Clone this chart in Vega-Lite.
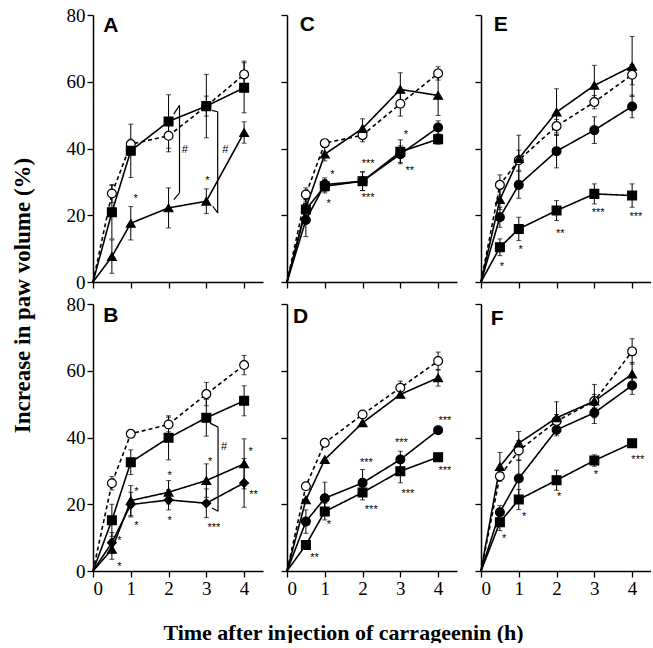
{
 "$schema": "https://vega.github.io/schema/vega-lite/v6.json",
 "padding": {"left": 11, "top": 6, "right": 0, "bottom": 0},
 "background": "white",
 "config": {
  "view": {"stroke": null},
  "axis": {"domainColor": "black", "domainWidth": 1.5, "tickColor": "black", "tickWidth": 1.3, "tickSize": 6, "grid": false, "labelFont": "Liberation Serif", "labelFontSize": 19, "labelColor": "black", "labelPadding": 2, "titleFont": "Liberation Serif", "titleFontSize": 22, "titleFontWeight": "bold", "titleColor": "black"},
  "point": {"size": 78},
  "text": {"color": "black"}
 },
 "data": {"values": [
  {"p":"A","k":"pt","s":"ctrl","t":0,"v":0,"e":0},{"p":"A","k":"pt","s":"ctrl","t":0.5,"v":26.5,"e":2.7},{"p":"A","k":"pt","s":"ctrl","t":1,"v":41.3,"e":1.5},{"p":"A","k":"pt","s":"ctrl","t":2,"v":43.8,"e":4.8},{"p":"A","k":"pt","s":"ctrl","t":3,"v":52.7,"e":3},{"p":"A","k":"pt","s":"ctrl","t":4,"v":62.2,"e":4},
  {"p":"A","k":"pt","s":"sq","t":0,"v":0,"e":0},{"p":"A","k":"pt","s":"sq","t":0.5,"v":20.9,"e":8},{"p":"A","k":"pt","s":"sq","t":1,"v":39.3,"e":8},{"p":"A","k":"pt","s":"sq","t":2,"v":48.1,"e":8},{"p":"A","k":"pt","s":"sq","t":3,"v":52.7,"e":9.5},{"p":"A","k":"pt","s":"sq","t":4,"v":58.2,"e":7.5},
  {"p":"A","k":"pt","s":"tri","t":0,"v":0,"e":0},{"p":"A","k":"pt","s":"tri","t":0.5,"v":7.6,"e":5},{"p":"A","k":"pt","s":"tri","t":1,"v":17.6,"e":5},{"p":"A","k":"pt","s":"tri","t":2,"v":22.2,"e":6},{"p":"A","k":"pt","s":"tri","t":3,"v":24.2,"e":3.7},{"p":"A","k":"pt","s":"tri","t":4,"v":44.8,"e":3.2},
  {"p":"A","k":"st","t":1.13,"v":25.7,"lab":"*"},{"p":"A","k":"st","t":3.03,"v":31.2,"lab":"*"},{"p":"A","k":"st","t":2.43,"v":40.3,"lab":"#"},{"p":"A","k":"st","t":3.5,"v":40.3,"lab":"#"},
  {"p":"A","k":"sg","t":2.14,"v":50.4,"t2":2.29,"v2":52.9},{"p":"A","k":"sg","t":2.29,"v":52.9,"t2":2.29,"v2":26.7},{"p":"A","k":"sg","t":2.29,"v":26.7,"t2":2.14,"v2":24.7},
  {"p":"A","k":"sg","t":3.15,"v":51.4,"t2":3.3,"v2":51},{"p":"A","k":"sg","t":3.3,"v":51,"t2":3.3,"v2":20.7},{"p":"A","k":"sg","t":3.3,"v":20.7,"t2":3.17,"v2":22.7},
  {"p":"A","k":"lb","t":0.27,"v":74.9,"lab":"A"},

  {"p":"C","k":"pt","s":"ctrl","t":0,"v":0,"e":0},{"p":"C","k":"pt","s":"ctrl","t":0.5,"v":26.2,"e":2},{"p":"C","k":"pt","s":"ctrl","t":1,"v":41.6,"e":1},{"p":"C","k":"pt","s":"ctrl","t":2,"v":44,"e":2},{"p":"C","k":"pt","s":"ctrl","t":3,"v":53.4,"e":3.7},{"p":"C","k":"pt","s":"ctrl","t":4,"v":62.5,"e":2},
  {"p":"C","k":"pt","s":"tri","t":0,"v":0,"e":0},{"p":"C","k":"pt","s":"tri","t":0.5,"v":22.2,"e":3},{"p":"C","k":"pt","s":"tri","t":1,"v":38.3,"e":2},{"p":"C","k":"pt","s":"tri","t":2,"v":46,"e":2.9},{"p":"C","k":"pt","s":"tri","t":3,"v":57.7,"e":5},{"p":"C","k":"pt","s":"tri","t":4,"v":55.9,"e":6},
  {"p":"C","k":"pt","s":"sq","t":0,"v":0,"e":0},{"p":"C","k":"pt","s":"sq","t":0.5,"v":21.7,"e":3},{"p":"C","k":"pt","s":"sq","t":1,"v":28.7,"e":2},{"p":"C","k":"pt","s":"sq","t":2,"v":30.2,"e":2.8},{"p":"C","k":"pt","s":"sq","t":3,"v":39,"e":3.6},{"p":"C","k":"pt","s":"sq","t":4,"v":42.8,"e":1.5},
  {"p":"C","k":"pt","s":"dot","t":0,"v":0,"e":0},{"p":"C","k":"pt","s":"dot","t":0.5,"v":18.6,"e":5},{"p":"C","k":"pt","s":"dot","t":1,"v":29.2,"e":2},{"p":"C","k":"pt","s":"dot","t":2,"v":30.2,"e":2.8},{"p":"C","k":"pt","s":"dot","t":3,"v":38.3,"e":2.5},{"p":"C","k":"pt","s":"dot","t":4,"v":46.3,"e":2},
  {"p":"C","k":"st","t":1.2,"v":33,"lab":"*"},{"p":"C","k":"st","t":1.1,"v":24.2,"lab":"*"},{"p":"C","k":"st","t":2.15,"v":36.3,"lab":"***"},{"p":"C","k":"st","t":2.15,"v":26.2,"lab":"***"},{"p":"C","k":"st","t":3.15,"v":44.8,"lab":"*"},{"p":"C","k":"st","t":3.25,"v":34.3,"lab":"**"},
  {"p":"C","k":"lb","t":0.34,"v":75.1,"lab":"C"},

  {"p":"E","k":"pt","s":"ctrl","t":0,"v":0,"e":0},{"p":"E","k":"pt","s":"ctrl","t":0.5,"v":29.1,"e":3},{"p":"E","k":"pt","s":"ctrl","t":1,"v":36.5,"e":3},{"p":"E","k":"pt","s":"ctrl","t":2,"v":46.7,"e":2},{"p":"E","k":"pt","s":"ctrl","t":3,"v":53.9,"e":2},{"p":"E","k":"pt","s":"ctrl","t":4,"v":62.1,"e":3},
  {"p":"E","k":"pt","s":"tri","t":0,"v":0,"e":0},{"p":"E","k":"pt","s":"tri","t":0.5,"v":24.7,"e":3},{"p":"E","k":"pt","s":"tri","t":1,"v":37,"e":7},{"p":"E","k":"pt","s":"tri","t":2,"v":50.9,"e":7},{"p":"E","k":"pt","s":"tri","t":3,"v":58.9,"e":6},{"p":"E","k":"pt","s":"tri","t":4,"v":64.6,"e":9},
  {"p":"E","k":"pt","s":"dot","t":0,"v":0,"e":0},{"p":"E","k":"pt","s":"dot","t":0.5,"v":19.4,"e":3},{"p":"E","k":"pt","s":"dot","t":1,"v":29.1,"e":4},{"p":"E","k":"pt","s":"dot","t":2,"v":39.2,"e":5},{"p":"E","k":"pt","s":"dot","t":3,"v":45.5,"e":4},{"p":"E","k":"pt","s":"dot","t":4,"v":52.6,"e":3.4},
  {"p":"E","k":"pt","s":"sq","t":0,"v":0,"e":0},{"p":"E","k":"pt","s":"sq","t":0.5,"v":10.4,"e":2.5},{"p":"E","k":"pt","s":"sq","t":1,"v":15.9,"e":3.5},{"p":"E","k":"pt","s":"sq","t":2,"v":21.4,"e":3},{"p":"E","k":"pt","s":"sq","t":3,"v":26.4,"e":3},{"p":"E","k":"pt","s":"sq","t":4,"v":25.9,"e":3.5},
  {"p":"E","k":"st","t":0.55,"v":5.3,"lab":"*"},{"p":"E","k":"st","t":1.05,"v":10.4,"lab":"*"},{"p":"E","k":"st","t":2.1,"v":15.4,"lab":"**"},{"p":"E","k":"st","t":3.1,"v":21.7,"lab":"***"},{"p":"E","k":"st","t":4.1,"v":20.4,"lab":"***"},
  {"p":"E","k":"lb","t":0.34,"v":75.1,"lab":"E"},

  {"p":"B","k":"pt","s":"ctrl","t":0,"v":0,"e":0},{"p":"B","k":"pt","s":"ctrl","t":0.5,"v":26.3,"e":2},{"p":"B","k":"pt","s":"ctrl","t":1,"v":41.1,"e":0.5},{"p":"B","k":"pt","s":"ctrl","t":2,"v":43.9,"e":2.2},{"p":"B","k":"pt","s":"ctrl","t":3,"v":53,"e":3.5},{"p":"B","k":"pt","s":"ctrl","t":4,"v":61.7,"e":2.9},
  {"p":"B","k":"pt","s":"sq","t":0,"v":0,"e":0},{"p":"B","k":"pt","s":"sq","t":0.5,"v":15.2,"e":4.8},{"p":"B","k":"pt","s":"sq","t":1,"v":32.6,"e":3.7},{"p":"B","k":"pt","s":"sq","t":2,"v":39.9,"e":6.6},{"p":"B","k":"pt","s":"sq","t":3,"v":45.9,"e":5.5},{"p":"B","k":"pt","s":"sq","t":4,"v":51,"e":4.5},
  {"p":"B","k":"pt","s":"tri","t":0,"v":0,"e":0},{"p":"B","k":"pt","s":"tri","t":0.5,"v":6.5,"e":3},{"p":"B","k":"pt","s":"tri","t":1,"v":21.1,"e":4.5},{"p":"B","k":"pt","s":"tri","t":2,"v":23.6,"e":3.5},{"p":"B","k":"pt","s":"tri","t":3,"v":27.1,"e":5},{"p":"B","k":"pt","s":"tri","t":4,"v":32.1,"e":7.5},
  {"p":"B","k":"pt","s":"dia","t":0,"v":0,"e":0},{"p":"B","k":"pt","s":"dia","t":0.5,"v":8.5,"e":3},{"p":"B","k":"pt","s":"dia","t":1,"v":19.9,"e":3.7},{"p":"B","k":"pt","s":"dia","t":2,"v":21.3,"e":3},{"p":"B","k":"pt","s":"dia","t":3,"v":20.3,"e":4.3},{"p":"B","k":"pt","s":"dia","t":4,"v":26.4,"e":7.3},
  {"p":"B","k":"st","t":0.7,"v":9.8,"lab":"*"},{"p":"B","k":"st","t":0.7,"v":2.2,"lab":"*"},{"p":"B","k":"st","t":1.15,"v":24.6,"lab":"*"},{"p":"B","k":"st","t":1.15,"v":14.5,"lab":"*"},{"p":"B","k":"st","t":2.03,"v":29.4,"lab":"*"},{"p":"B","k":"st","t":2.03,"v":16,"lab":"*"},{"p":"B","k":"st","t":3.1,"v":33.6,"lab":"*"},{"p":"B","k":"st","t":3.2,"v":13.8,"lab":"***"},{"p":"B","k":"st","t":3.47,"v":38.1,"lab":"#"},{"p":"B","k":"st","t":4.17,"v":36.6,"lab":"*"},{"p":"B","k":"st","t":4.25,"v":23.6,"lab":"**"},
  {"p":"B","k":"sg","t":3.1,"v":44.3,"t2":3.31,"v2":43.1},{"p":"B","k":"sg","t":3.31,"v":43.1,"t2":3.31,"v2":17.9},{"p":"B","k":"sg","t":3.31,"v":17.9,"t2":3.15,"v2":18.9},
  {"p":"B","k":"lb","t":0.27,"v":74.6,"lab":"B"},

  {"p":"D","k":"pt","s":"ctrl","t":0,"v":0,"e":0},{"p":"D","k":"pt","s":"ctrl","t":0.5,"v":25.4,"e":0},{"p":"D","k":"pt","s":"ctrl","t":1,"v":38.4,"e":0},{"p":"D","k":"pt","s":"ctrl","t":2,"v":46.9,"e":0},{"p":"D","k":"pt","s":"ctrl","t":3,"v":54.9,"e":2},{"p":"D","k":"pt","s":"ctrl","t":4,"v":62.9,"e":2.7},
  {"p":"D","k":"pt","s":"tri","t":0,"v":0,"e":0},{"p":"D","k":"pt","s":"tri","t":0.5,"v":21.3,"e":0},{"p":"D","k":"pt","s":"tri","t":1,"v":33.4,"e":0},{"p":"D","k":"pt","s":"tri","t":2,"v":44.4,"e":0},{"p":"D","k":"pt","s":"tri","t":3,"v":52.9,"e":1},{"p":"D","k":"pt","s":"tri","t":4,"v":57.9,"e":2.5},
  {"p":"D","k":"pt","s":"dot","t":0,"v":0,"e":0},{"p":"D","k":"pt","s":"dot","t":0.5,"v":14.8,"e":3.5},{"p":"D","k":"pt","s":"dot","t":1,"v":21.8,"e":4.8},{"p":"D","k":"pt","s":"dot","t":2,"v":26.4,"e":4},{"p":"D","k":"pt","s":"dot","t":3,"v":33.4,"e":2.5},{"p":"D","k":"pt","s":"dot","t":4,"v":42.2,"e":0.5},
  {"p":"D","k":"pt","s":"sq","t":0,"v":0,"e":0},{"p":"D","k":"pt","s":"sq","t":0.5,"v":7.8,"e":1},{"p":"D","k":"pt","s":"sq","t":1,"v":17.8,"e":2.5},{"p":"D","k":"pt","s":"sq","t":2,"v":23.5,"e":2.2},{"p":"D","k":"pt","s":"sq","t":3,"v":29.9,"e":3.5},{"p":"D","k":"pt","s":"sq","t":4,"v":34.1,"e":0.8},
  {"p":"D","k":"st","t":0.73,"v":4.8,"lab":"**"},{"p":"D","k":"st","t":1.11,"v":14.8,"lab":"*"},{"p":"D","k":"st","t":2.1,"v":33.4,"lab":"***"},{"p":"D","k":"st","t":2.23,"v":19.3,"lab":"***"},{"p":"D","k":"st","t":3.03,"v":39.2,"lab":"***"},{"p":"D","k":"st","t":3.2,"v":24.1,"lab":"***"},{"p":"D","k":"st","t":4.18,"v":45.9,"lab":"***"},{"p":"D","k":"st","t":4.18,"v":30.9,"lab":"***"},
  {"p":"D","k":"lb","t":0.16,"v":74.2,"lab":"D"},

  {"p":"F","k":"pt","s":"ctrl","t":0,"v":0,"e":0},{"p":"F","k":"pt","s":"ctrl","t":0.5,"v":28.4,"e":1.5},{"p":"F","k":"pt","s":"ctrl","t":1,"v":36.1,"e":3},{"p":"F","k":"pt","s":"ctrl","t":2,"v":44.9,"e":2},{"p":"F","k":"pt","s":"ctrl","t":3,"v":50.9,"e":2},{"p":"F","k":"pt","s":"ctrl","t":4,"v":65.8,"e":3.8},
  {"p":"F","k":"pt","s":"tri","t":0,"v":0,"e":0},{"p":"F","k":"pt","s":"tri","t":0.5,"v":31.3,"e":4.2},{"p":"F","k":"pt","s":"tri","t":1,"v":38.3,"e":3.5},{"p":"F","k":"pt","s":"tri","t":2,"v":45.9,"e":4.8},{"p":"F","k":"pt","s":"tri","t":3,"v":50.9,"e":5},{"p":"F","k":"pt","s":"tri","t":4,"v":59,"e":3.5},
  {"p":"F","k":"pt","s":"dot","t":0,"v":0,"e":0},{"p":"F","k":"pt","s":"dot","t":0.5,"v":17.6,"e":2},{"p":"F","k":"pt","s":"dot","t":1,"v":27.7,"e":5.6},{"p":"F","k":"pt","s":"dot","t":2,"v":42.3,"e":1.8},{"p":"F","k":"pt","s":"dot","t":3,"v":47.4,"e":3.2},{"p":"F","k":"pt","s":"dot","t":4,"v":55.6,"e":2.7},
  {"p":"F","k":"pt","s":"sq","t":0,"v":0,"e":0},{"p":"F","k":"pt","s":"sq","t":0.5,"v":14.6,"e":2.5},{"p":"F","k":"pt","s":"sq","t":1,"v":21.4,"e":3},{"p":"F","k":"pt","s":"sq","t":2,"v":27.2,"e":3},{"p":"F","k":"pt","s":"sq","t":3,"v":33.1,"e":1.7},{"p":"F","k":"pt","s":"sq","t":4,"v":38.3,"e":1},
  {"p":"F","k":"st","t":0.61,"v":10.6,"lab":"*"},{"p":"F","k":"st","t":1.14,"v":17.1,"lab":"*"},{"p":"F","k":"st","t":2.07,"v":23,"lab":"*"},{"p":"F","k":"st","t":3.04,"v":29.7,"lab":"*"},{"p":"F","k":"st","t":4.15,"v":34.3,"lab":"***"},
  {"p":"F","k":"lb","t":0.26,"v":73.6,"lab":"F"}
 ]},
 "bounds": "flush",
 "columns": 3,
 "spacing": {"row": 22, "column": 24},
 "concat": [
   {"width": 170, "height": 267, "transform": [{"filter": "datum.p == 'A'"}],
    "encoding": {
     "x": {"field": "t", "type": "quantitative", "scale": {"domain": [0, 4.5], "nice": false, "zero": false}, "axis": {"values": [0,1,2,3,4], "labels": false, "title": null}},
     "y": {"field": "v", "type": "quantitative", "scale": {"domain": [0, 80], "nice": false}, "axis": {"values": [0,20,40,60,80], "title": "Increase in paw volume (%)", "titleFontSize": 23, "titleX": -71, "titleY": 280, "titleAngle": 270, "titleAlign": "center", "titleBaseline": "middle"}}
    },
    "layer": [
     {"transform": [{"filter": "datum.k == 'sg'"}], "mark": {"type": "rule", "color": "black", "strokeWidth": 1.2}, "encoding": {"x2": {"field": "t2"}, "y2": {"field": "v2"}}},
     {"transform": [{"filter": "datum.k == 'pt'"}], "mark": {"type": "line", "color": "black", "strokeWidth": 1.6}, "encoding": {"detail": {"field": "s"}, "strokeDash": {"field": "s", "type": "nominal", "scale": {"domain": ["ctrl","sq","tri","dia","dot"], "range": [[4,3],[1,0],[1,0],[1,0],[1,0]]}, "legend": null}}},
     {"transform": [{"filter": "datum.k == 'pt' && datum.e > 0"}], "mark": {"type": "errorbar", "ticks": true, "color": "black"}, "encoding": {"yError": {"field": "e"}}},
     {"transform": [{"filter": "datum.k == 'pt' && datum.t > 0"}], "mark": {"type": "point", "filled": true, "stroke": "black", "strokeWidth": 1.2, "opacity": 1}, "encoding": {"shape": {"field": "s", "type": "nominal", "scale": {"domain": ["ctrl","sq","tri","dia","dot"], "range": ["circle","square","triangle-up","diamond","circle"]}, "legend": null}, "color": {"field": "s", "type": "nominal", "scale": {"domain": ["ctrl","sq","tri","dia","dot"], "range": ["white","black","black","black","black"]}, "legend": null}}},
     {"transform": [{"filter": "datum.k == 'st'"}], "mark": {"type": "text", "font": "Liberation Sans", "fontSize": 11, "dy": 3, "color": "black"}, "encoding": {"text": {"field": "lab"}}},
     {"transform": [{"filter": "datum.k == 'lb'"}], "mark": {"type": "text", "font": "Liberation Sans", "fontSize": 21, "fontWeight": "bold", "align": "left", "baseline": "alphabetic", "color": "black"}, "encoding": {"text": {"field": "lab"}}}
    ]},
   {"width": 170, "height": 267, "transform": [{"filter": "datum.p == 'C'"}],
    "encoding": {
     "x": {"field": "t", "type": "quantitative", "scale": {"domain": [0, 4.5], "nice": false, "zero": false}, "axis": {"values": [0,1,2,3,4], "labels": false, "title": null}},
     "y": {"field": "v", "type": "quantitative", "scale": {"domain": [0, 80], "nice": false}, "axis": {"values": [0,20,40,60,80], "labels": false, "title": null}}
    },
    "layer": [
     {"transform": [{"filter": "datum.k == 'sg'"}], "mark": {"type": "rule", "color": "black", "strokeWidth": 1.2}, "encoding": {"x2": {"field": "t2"}, "y2": {"field": "v2"}}},
     {"transform": [{"filter": "datum.k == 'pt'"}], "mark": {"type": "line", "color": "black", "strokeWidth": 1.6}, "encoding": {"detail": {"field": "s"}, "strokeDash": {"field": "s", "type": "nominal", "scale": {"domain": ["ctrl","sq","tri","dia","dot"], "range": [[4,3],[1,0],[1,0],[1,0],[1,0]]}, "legend": null}}},
     {"transform": [{"filter": "datum.k == 'pt' && datum.e > 0"}], "mark": {"type": "errorbar", "ticks": true, "color": "black"}, "encoding": {"yError": {"field": "e"}}},
     {"transform": [{"filter": "datum.k == 'pt' && datum.t > 0"}], "mark": {"type": "point", "filled": true, "stroke": "black", "strokeWidth": 1.2, "opacity": 1}, "encoding": {"shape": {"field": "s", "type": "nominal", "scale": {"domain": ["ctrl","sq","tri","dia","dot"], "range": ["circle","square","triangle-up","diamond","circle"]}, "legend": null}, "color": {"field": "s", "type": "nominal", "scale": {"domain": ["ctrl","sq","tri","dia","dot"], "range": ["white","black","black","black","black"]}, "legend": null}}},
     {"transform": [{"filter": "datum.k == 'st'"}], "mark": {"type": "text", "font": "Liberation Sans", "fontSize": 11, "dy": 3, "color": "black"}, "encoding": {"text": {"field": "lab"}}},
     {"transform": [{"filter": "datum.k == 'lb'"}], "mark": {"type": "text", "font": "Liberation Sans", "fontSize": 21, "fontWeight": "bold", "align": "left", "baseline": "alphabetic", "color": "black"}, "encoding": {"text": {"field": "lab"}}}
    ]},
   {"width": 170, "height": 267, "transform": [{"filter": "datum.p == 'E'"}],
    "encoding": {
     "x": {"field": "t", "type": "quantitative", "scale": {"domain": [0, 4.5], "nice": false, "zero": false}, "axis": {"values": [0,1,2,3,4], "labels": false, "title": null}},
     "y": {"field": "v", "type": "quantitative", "scale": {"domain": [0, 80], "nice": false}, "axis": {"values": [0,20,40,60,80], "labels": false, "title": null}}
    },
    "layer": [
     {"transform": [{"filter": "datum.k == 'sg'"}], "mark": {"type": "rule", "color": "black", "strokeWidth": 1.2}, "encoding": {"x2": {"field": "t2"}, "y2": {"field": "v2"}}},
     {"transform": [{"filter": "datum.k == 'pt'"}], "mark": {"type": "line", "color": "black", "strokeWidth": 1.6}, "encoding": {"detail": {"field": "s"}, "strokeDash": {"field": "s", "type": "nominal", "scale": {"domain": ["ctrl","sq","tri","dia","dot"], "range": [[4,3],[1,0],[1,0],[1,0],[1,0]]}, "legend": null}}},
     {"transform": [{"filter": "datum.k == 'pt' && datum.e > 0"}], "mark": {"type": "errorbar", "ticks": true, "color": "black"}, "encoding": {"yError": {"field": "e"}}},
     {"transform": [{"filter": "datum.k == 'pt' && datum.t > 0"}], "mark": {"type": "point", "filled": true, "stroke": "black", "strokeWidth": 1.2, "opacity": 1}, "encoding": {"shape": {"field": "s", "type": "nominal", "scale": {"domain": ["ctrl","sq","tri","dia","dot"], "range": ["circle","square","triangle-up","diamond","circle"]}, "legend": null}, "color": {"field": "s", "type": "nominal", "scale": {"domain": ["ctrl","sq","tri","dia","dot"], "range": ["white","black","black","black","black"]}, "legend": null}}},
     {"transform": [{"filter": "datum.k == 'st'"}], "mark": {"type": "text", "font": "Liberation Sans", "fontSize": 11, "dy": 3, "color": "black"}, "encoding": {"text": {"field": "lab"}}},
     {"transform": [{"filter": "datum.k == 'lb'"}], "mark": {"type": "text", "font": "Liberation Sans", "fontSize": 21, "fontWeight": "bold", "align": "left", "baseline": "alphabetic", "color": "black"}, "encoding": {"text": {"field": "lab"}}}
    ]},
   {"width": 170, "height": 267, "transform": [{"filter": "datum.p == 'B'"}],
    "encoding": {
     "x": {"field": "t", "type": "quantitative", "scale": {"domain": [0, 4.5], "nice": false, "zero": false}, "axis": {"values": [0,1,2,3,4], "title": null}},
     "y": {"field": "v", "type": "quantitative", "scale": {"domain": [0, 80], "nice": false}, "axis": {"values": [0,20,40,60,80], "title": null}}
    },
    "layer": [
     {"transform": [{"filter": "datum.k == 'sg'"}], "mark": {"type": "rule", "color": "black", "strokeWidth": 1.2}, "encoding": {"x2": {"field": "t2"}, "y2": {"field": "v2"}}},
     {"transform": [{"filter": "datum.k == 'pt'"}], "mark": {"type": "line", "color": "black", "strokeWidth": 1.6}, "encoding": {"detail": {"field": "s"}, "strokeDash": {"field": "s", "type": "nominal", "scale": {"domain": ["ctrl","sq","tri","dia","dot"], "range": [[4,3],[1,0],[1,0],[1,0],[1,0]]}, "legend": null}}},
     {"transform": [{"filter": "datum.k == 'pt' && datum.e > 0"}], "mark": {"type": "errorbar", "ticks": true, "color": "black"}, "encoding": {"yError": {"field": "e"}}},
     {"transform": [{"filter": "datum.k == 'pt' && datum.t > 0"}], "mark": {"type": "point", "filled": true, "stroke": "black", "strokeWidth": 1.2, "opacity": 1}, "encoding": {"shape": {"field": "s", "type": "nominal", "scale": {"domain": ["ctrl","sq","tri","dia","dot"], "range": ["circle","square","triangle-up","diamond","circle"]}, "legend": null}, "color": {"field": "s", "type": "nominal", "scale": {"domain": ["ctrl","sq","tri","dia","dot"], "range": ["white","black","black","black","black"]}, "legend": null}}},
     {"transform": [{"filter": "datum.k == 'st'"}], "mark": {"type": "text", "font": "Liberation Sans", "fontSize": 11, "dy": 3, "color": "black"}, "encoding": {"text": {"field": "lab"}}},
     {"transform": [{"filter": "datum.k == 'lb'"}], "mark": {"type": "text", "font": "Liberation Sans", "fontSize": 21, "fontWeight": "bold", "align": "left", "baseline": "alphabetic", "color": "black"}, "encoding": {"text": {"field": "lab"}}}
    ]},
   {"width": 170, "height": 267, "transform": [{"filter": "datum.p == 'D'"}],
    "encoding": {
     "x": {"field": "t", "type": "quantitative", "scale": {"domain": [0, 4.5], "nice": false, "zero": false}, "axis": {"values": [0,1,2,3,4], "title": "Time after injection of carrageenin (h)", "titleX": 56, "titleY": 68, "titleAlign": "center", "titleBaseline": "alphabetic"}},
     "y": {"field": "v", "type": "quantitative", "scale": {"domain": [0, 80], "nice": false}, "axis": {"values": [0,20,40,60,80], "labels": false, "title": null}}
    },
    "layer": [
     {"transform": [{"filter": "datum.k == 'sg'"}], "mark": {"type": "rule", "color": "black", "strokeWidth": 1.2}, "encoding": {"x2": {"field": "t2"}, "y2": {"field": "v2"}}},
     {"transform": [{"filter": "datum.k == 'pt'"}], "mark": {"type": "line", "color": "black", "strokeWidth": 1.6}, "encoding": {"detail": {"field": "s"}, "strokeDash": {"field": "s", "type": "nominal", "scale": {"domain": ["ctrl","sq","tri","dia","dot"], "range": [[4,3],[1,0],[1,0],[1,0],[1,0]]}, "legend": null}}},
     {"transform": [{"filter": "datum.k == 'pt' && datum.e > 0"}], "mark": {"type": "errorbar", "ticks": true, "color": "black"}, "encoding": {"yError": {"field": "e"}}},
     {"transform": [{"filter": "datum.k == 'pt' && datum.t > 0"}], "mark": {"type": "point", "filled": true, "stroke": "black", "strokeWidth": 1.2, "opacity": 1}, "encoding": {"shape": {"field": "s", "type": "nominal", "scale": {"domain": ["ctrl","sq","tri","dia","dot"], "range": ["circle","square","triangle-up","diamond","circle"]}, "legend": null}, "color": {"field": "s", "type": "nominal", "scale": {"domain": ["ctrl","sq","tri","dia","dot"], "range": ["white","black","black","black","black"]}, "legend": null}}},
     {"transform": [{"filter": "datum.k == 'st'"}], "mark": {"type": "text", "font": "Liberation Sans", "fontSize": 11, "dy": 3, "color": "black"}, "encoding": {"text": {"field": "lab"}}},
     {"transform": [{"filter": "datum.k == 'lb'"}], "mark": {"type": "text", "font": "Liberation Sans", "fontSize": 21, "fontWeight": "bold", "align": "left", "baseline": "alphabetic", "color": "black"}, "encoding": {"text": {"field": "lab"}}}
    ]},
   {"width": 170, "height": 267, "transform": [{"filter": "datum.p == 'F'"}],
    "encoding": {
     "x": {"field": "t", "type": "quantitative", "scale": {"domain": [0, 4.5], "nice": false, "zero": false}, "axis": {"values": [0,1,2,3,4], "title": null}},
     "y": {"field": "v", "type": "quantitative", "scale": {"domain": [0, 80], "nice": false}, "axis": {"values": [0,20,40,60,80], "labels": false, "title": null}}
    },
    "layer": [
     {"transform": [{"filter": "datum.k == 'sg'"}], "mark": {"type": "rule", "color": "black", "strokeWidth": 1.2}, "encoding": {"x2": {"field": "t2"}, "y2": {"field": "v2"}}},
     {"transform": [{"filter": "datum.k == 'pt'"}], "mark": {"type": "line", "color": "black", "strokeWidth": 1.6}, "encoding": {"detail": {"field": "s"}, "strokeDash": {"field": "s", "type": "nominal", "scale": {"domain": ["ctrl","sq","tri","dia","dot"], "range": [[4,3],[1,0],[1,0],[1,0],[1,0]]}, "legend": null}}},
     {"transform": [{"filter": "datum.k == 'pt' && datum.e > 0"}], "mark": {"type": "errorbar", "ticks": true, "color": "black"}, "encoding": {"yError": {"field": "e"}}},
     {"transform": [{"filter": "datum.k == 'pt' && datum.t > 0"}], "mark": {"type": "point", "filled": true, "stroke": "black", "strokeWidth": 1.2, "opacity": 1}, "encoding": {"shape": {"field": "s", "type": "nominal", "scale": {"domain": ["ctrl","sq","tri","dia","dot"], "range": ["circle","square","triangle-up","diamond","circle"]}, "legend": null}, "color": {"field": "s", "type": "nominal", "scale": {"domain": ["ctrl","sq","tri","dia","dot"], "range": ["white","black","black","black","black"]}, "legend": null}}},
     {"transform": [{"filter": "datum.k == 'st'"}], "mark": {"type": "text", "font": "Liberation Sans", "fontSize": 11, "dy": 3, "color": "black"}, "encoding": {"text": {"field": "lab"}}},
     {"transform": [{"filter": "datum.k == 'lb'"}], "mark": {"type": "text", "font": "Liberation Sans", "fontSize": 21, "fontWeight": "bold", "align": "left", "baseline": "alphabetic", "color": "black"}, "encoding": {"text": {"field": "lab"}}}
    ]}
 ]
}
